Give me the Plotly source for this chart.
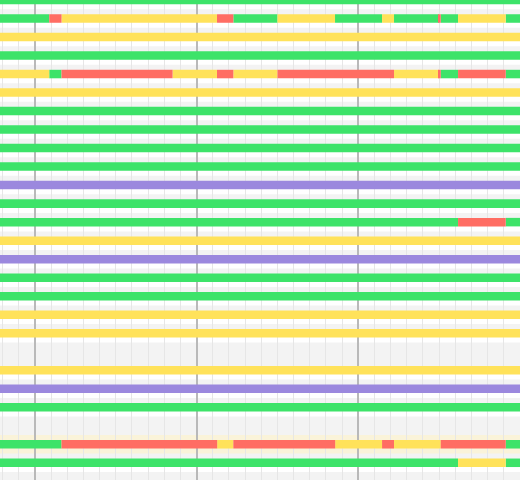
import plotly.graph_objects as go

# ---- data ----
T_START, T_END = -3.0, 31.0
ROWS = list(range(26))
EMPTY_ROWS = [19, 23]
HIGHLIGHT_ROW = 24

# change points (time units) for rows with several states
ROW_BREAKS = {
    1: [0.88, 1.64, 11.26, 12.27, 15.0, 18.56, 21.47, 22.21, 24.99, 25.1, 26.17, 29.12],
    4: [0.88, 1.64, 8.51, 11.26, 12.27, 15.0, 22.21, 24.99, 25.1, 26.17, 29.12],
    12: [26.17, 29.12],
    24: [1.64, 11.27, 12.27, 18.57, 21.47, 22.21, 25.1, 29.12],
    25: [26.17, 29.12],
}
ROW_STATES = {
    0: ["up"],
    1: ["up", "down", "warn", "down", "up", "warn", "up", "warn", "up", "down", "up", "warn", "up"],
    2: ["warn"],
    3: ["up"],
    4: ["warn", "up", "down", "warn", "down", "warn", "down", "warn", "down", "up", "down", "up"],
    5: ["warn"],
    6: ["up"],
    7: ["up"],
    8: ["up"],
    9: ["up"],
    10: ["maint"],
    11: ["up"],
    12: ["up", "down", "up"],
    13: ["warn"],
    14: ["maint"],
    15: ["up"],
    16: ["up"],
    17: ["warn"],
    18: ["warn"],
    20: ["warn"],
    21: ["maint"],
    22: ["up"],
    24: ["up", "down", "warn", "down", "warn", "down", "warn", "down", "up"],
    25: ["up", "warn", "up"],
}

# ---- styles ----
COLORS = {"up": "#3de369", "warn": "#ffe25a", "down": "#ff6d63", "maint": "#9b88de"}
BAR_H = 0.46

seg = {k: {"y": [], "base": [], "len": []} for k in COLORS}
for r in ROWS:
    if r not in ROW_STATES:
        continue
    states = ROW_STATES[r]
    edges = [T_START] + ROW_BREAKS.get(r, []) + [T_END]
    for i, s in enumerate(states):
        seg[s]["y"].append(r)
        seg[s]["base"].append(edges[i])
        seg[s]["len"].append(edges[i + 1] - edges[i])

fig = go.Figure()
for s, d in seg.items():
    fig.add_trace(go.Bar(
        y=d["y"], x=d["len"], base=d["base"], orientation="h",
        width=BAR_H, marker=dict(color=COLORS[s], line=dict(width=0)),
        name=s, hoverinfo="skip",
    ))

shapes = []
for r in ROWS:
    if r == HIGHLIGHT_ROW:
        shapes.append(dict(type="rect", xref="paper", yref="y", x0=0, x1=1,
                           y0=r - 0.5, y1=r + 0.5, fillcolor="#faf3d9",
                           line=dict(width=0), layer="below"))
    elif r not in EMPTY_ROWS:
        shapes.append(dict(type="rect", xref="paper", yref="y", x0=0, x1=1,
                           y0=r, y1=r + 0.5, fillcolor="#ffffff",
                           line=dict(width=0), layer="below"))

fig.update_layout(
    width=520, height=480, margin=dict(l=0, r=0, t=0, b=0),
    paper_bgcolor="#ffffff", plot_bgcolor="#f3f3f3",
    barmode="overlay", showlegend=False, shapes=shapes,
    xaxis=dict(range=[(0 - 35) / 16.165, (520 - 35) / 16.165],
               tick0=0, dtick=10, showgrid=True, gridcolor="#b9b9b9", gridwidth=1.6,
               minor=dict(dtick=1, showgrid=True, gridcolor="#e6e6e6", gridwidth=1.4),
               showticklabels=False, zeroline=False, showline=False, ticks=""),
    yaxis=dict(range=[25.93, 0.0], showgrid=False, zeroline=False,
               showticklabels=False, showline=False, ticks=""),
)

fig.write_html("out.html")
